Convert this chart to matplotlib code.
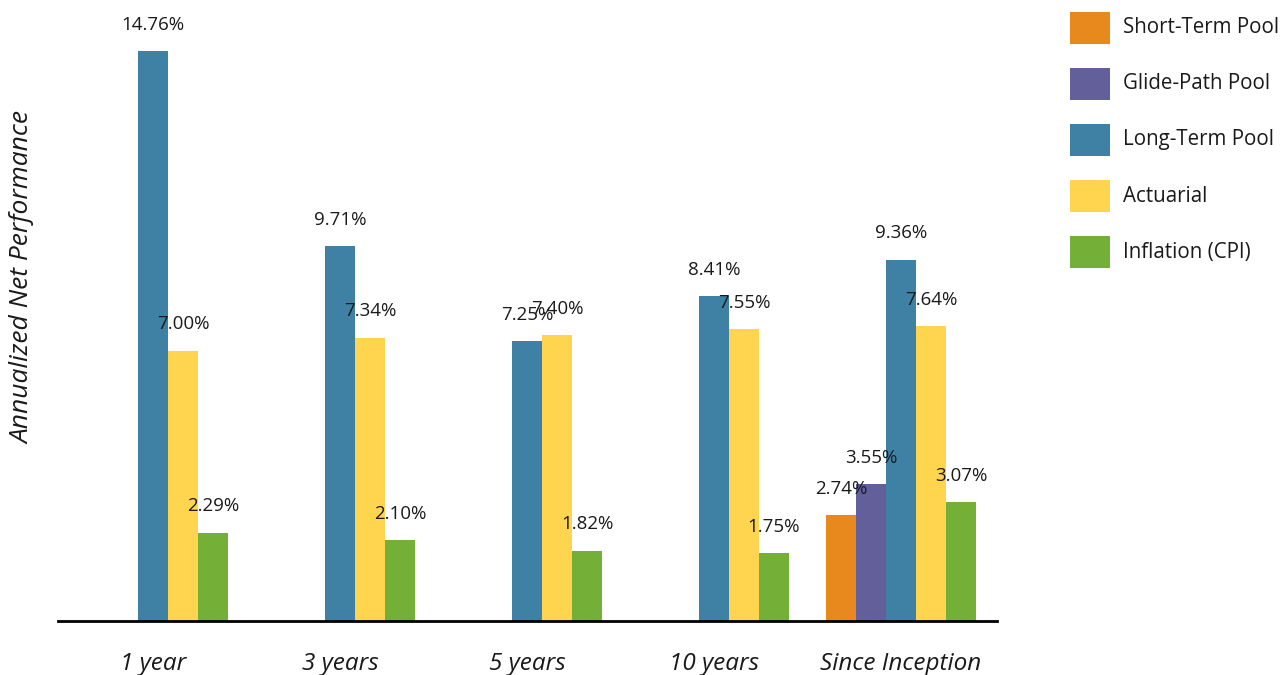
import matplotlib
matplotlib.use("Agg")
import matplotlib.pyplot as plt
from matplotlib.patches import Rectangle
import numpy as np

plt.rcParams['font.family'] = ['Open Sans', 'DejaVu Sans']

periods = ["1 year", "3 years", "5 years", "10 years", "Since Inception"]
series = ["Short-Term Pool", "Glide-Path Pool", "Long-Term Pool", "Actuarial", "Inflation (CPI)"]
short_term = [None, None, None, None, 2.74]
glide_path = [None, None, None, None, 3.55]
long_term = [14.76, 9.71, 7.25, 8.41, 9.36]
actuarial = [7.00, 7.34, 7.40, 7.55, 7.64]
inflation = [2.29, 2.10, 1.82, 1.75, 3.07]
colors = ["#E8891E", "#625F9B", "#3F80A5", "#FFD44F", "#74AF38"]

values = [short_term, glide_path, long_term, actuarial, inflation]

W, H = 1282, 675
fig = plt.figure(figsize=(W / 100, H / 100), dpi=100)
ymax = 16.0
ppu = 570 / 14.76
ax_top_px = 621 - ppu * ymax
ax = fig.add_axes([58 / W, (H - 621) / H, (997 - 58) / W, (621 - ax_top_px) / H])

x = np.arange(len(periods))
w = 30 / 187
for k, (vals, c) in enumerate(zip(values, colors)):
    off = (k - 2) * w
    for i, v in enumerate(vals):
        if v is None:
            continue
        ax.bar(x[i] + off, v, width=w, color=c, edgecolor='none')
        ax.annotate(f"{v:.2f}%", (x[i] + off, v), xytext=(0, 19), textcoords='offset points',
                    ha='center', va='center', fontsize=13.5, color='#1a1a1a')

ax.set_xlim((58 - 153) / 187, (997 - 153) / 187)
ax.set_ylim(0, ymax)
for s in ['top', 'right', 'left']:
    ax.spines[s].set_visible(False)
ax.spines['bottom'].set_linewidth(2)
ax.spines['bottom'].set_color('black')
ax.set_yticks([])
ax.set_xticks(x)
ax.set_xticklabels(periods, fontsize=17.5, style='italic', color='#1a1a1a')
ax.tick_params(axis='x', length=0, pad=22.5)

fig.text(23 / W, 1 - 277 / H, "Annualized Net Performance", rotation=90, ha='center', va='center',
         fontsize=19, style='italic', color='#1a1a1a')

# legend
for k, (name, c) in enumerate(zip(series, colors)):
    top = 11.7 + 56.1 * k
    fig.add_artist(Rectangle((1070 / W, 1 - (top + 32) / H), 40 / W, 32 / H,
                             transform=fig.transFigure, facecolor=c, edgecolor='none'))
    fig.text(1123 / W, 1 - (top + 16) / H, name, ha='left', va='center',
             fontsize=14.8, color='#1a1a1a')

fig.savefig("out.png", dpi=100)
